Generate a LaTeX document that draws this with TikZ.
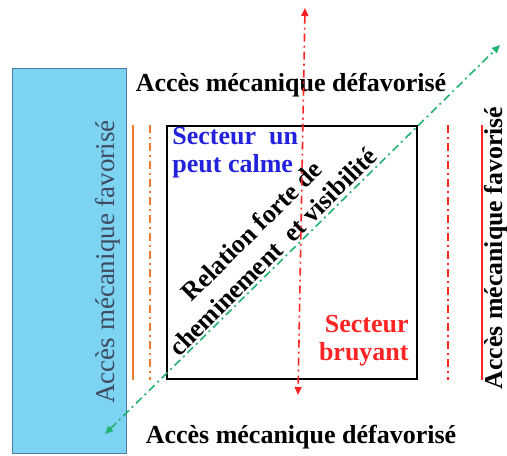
\documentclass[tikz,border=0pt]{standalone}
\usepackage{fontspec}
\setmainfont{Liberation Serif}
\usepackage{xcolor}
\usetikzlibrary{arrows.meta,positioning}
\definecolor{ciel}{HTML}{7DD3F2}
\definecolor{cielbord}{HTML}{4F7DAA}
\definecolor{orangel}{HTML}{F07A2E}
\definecolor{rougel}{HTML}{FF2424}
\definecolor{vertl}{HTML}{22B373}
\definecolor{bleut}{HTML}{2222DD}
\definecolor{ardoise}{HTML}{3E4B5E}

\begin{document}
\begin{tikzpicture}[
  x=0.5pt, y=-0.5pt,
  lbl/.style={font=\bfseries\fontsize{13}{14}\selectfont, align=center, inner sep=0pt},
  vlbl/.style={font=\fontsize{13.5}{15}\selectfont, inner sep=0pt, rotate=90},
  dashdot/.style={dash pattern=on 4pt off 2pt on 1pt off 2pt, line width=0.8pt},
  arr/.style={{Triangle[length=4pt,width=3.5pt]}-{Triangle[length=4pt,width=3.5pt]}},
]
\useasboundingbox (0,0) rectangle (507,455);
% zone bleue
\node[draw=cielbord, fill=ciel, line width=0.6pt, anchor=north west, inner sep=0pt,
  minimum width=57pt, minimum height=192.5pt] (zone) at (12,68) {};
\node[vlbl, text=ardoise] (favg) at (108,262) {Accès mécanique favorisé};
\node[vlbl, font=\bfseries\fontsize{12.9}{15}\selectfont] (favd) at (496,248) {Accès mécanique favorisé};
% cadre
\node[fill=gray!60, anchor=north west, inner sep=0pt,
  minimum width=125pt, minimum height=126.5pt] (ombre) at (167.5,126.5) {};
\node[draw, fill=white, line width=1pt, anchor=north west, inner sep=0pt,
  minimum width=125pt, minimum height=126.5pt] (cadre) at (166,125) {};
% limites
\coordinate (og1) at (133,125); \coordinate (og2) at (133,380);
\coordinate (ot1) at (150,125); \coordinate (ot2) at (150,380);
\coordinate (rt1) at (448,125); \coordinate (rt2) at (448,380);
\coordinate (rg1) at (482,125); \coordinate (rg2) at (482,380);
\draw[orangel, line width=1pt] (og1) -- (og2);
\draw[orangel, dashdot] (ot1) -- (ot2);
\draw[rougel, dashdot] (rt1) -- (rt2);
\draw[rougel, line width=1pt] (rg1) -- (rg2);
% textes
\node[lbl] (hdef) at (291,85) {Accès mécanique défavorisé};
\node[lbl] (bdef) at (301,437) {Accès mécanique défavorisé};
\node[lbl, align=left, anchor=north west, text=bleut] (calme) at (172,127) {Secteur\ \ un\\ peut calme};
\node[lbl, align=right, anchor=south east, text=rougel] (bruit) at (409,367) {Secteur\\bruyant};
\node[lbl, font=\bfseries\fontsize{13}{15}\selectfont, rotate=45] (rel) at (262,241) {Relation forte de\\cheminement\ \ et visibilité};
% axes
\coordinate (nord) at (305,8); \coordinate (sud) at (298,395);
\coordinate (sw) at (105,434); \coordinate (ne) at (500,45);
\draw[rougel, dashdot, arr] (nord) -- (sud);
\draw[vertl, dashdot, arr] (sw) -- (ne);
\end{tikzpicture}
\end{document}
